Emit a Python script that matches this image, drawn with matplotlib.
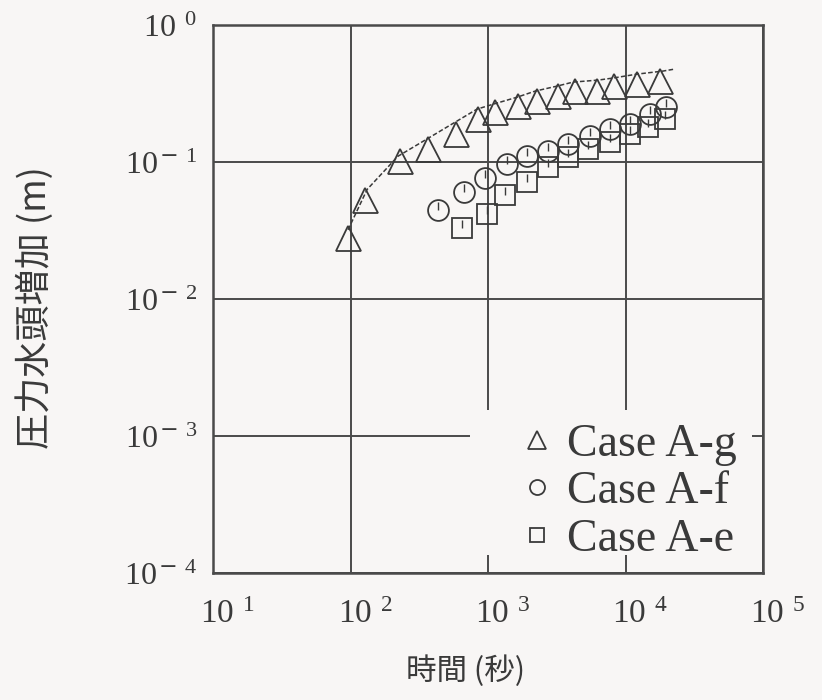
import math
import matplotlib
matplotlib.use("Agg")
import matplotlib.pyplot as plt
import matplotlib.transforms as mtransforms
from matplotlib.patches import Rectangle
from matplotlib.ticker import FixedLocator, FuncFormatter, NullLocator

plt.rcParams["mathtext.fontset"] = "custom"
plt.rcParams["mathtext.rm"] = "Liberation Serif"
plt.rcParams["mathtext.it"] = "Liberation Serif:italic"
plt.rcParams["mathtext.sf"] = "DejaVu Serif"
plt.rcParams["mathtext.default"] = "rm"

BG = "#f8f6f5"
INK = "#3a3a3a"

# Case A-g (triangles)
t_ag = [96, 127, 229, 366, 585, 845, 1120, 1650, 2270, 3230, 4300, 6210, 8250, 12100, 17800]
h_ag = [0.028, 0.053, 0.101, 0.124, 0.160, 0.206, 0.231, 0.256, 0.278, 0.303, 0.329,
        0.329, 0.358, 0.370, 0.389]

# Calculated curve for Case A-g
t_calc = [96, 132, 221, 359, 575, 831, 1087, 1625, 2197, 3176, 4150, 6310, 8110, 12130,
          18750, 22900]
h_calc = [0.032, 0.063, 0.110, 0.147, 0.195, 0.243, 0.264, 0.297, 0.329, 0.358, 0.383,
          0.396, 0.410, 0.438, 0.461, 0.477]

# Case A-f (circles)
t_af = [430, 670, 950, 1370, 1920, 2730, 3820, 5520, 7710, 10800, 15000, 19700]
h_af = [0.045, 0.060, 0.077, 0.096, 0.110, 0.120, 0.135, 0.154, 0.174, 0.190, 0.224, 0.251]

# Case A-e (squares)
t_ae = [650, 980, 1330, 1920, 2730, 3820, 5340, 7710, 10800, 14600, 19400]
h_ae = [0.033, 0.042, 0.057, 0.072, 0.092, 0.108, 0.124, 0.139, 0.160, 0.180, 0.206]

x_ticks = [1e1, 1e2, 1e3, 1e4, 1e5]
y_ticks = [1e-4, 1e-3, 1e-2, 1e-1, 1e0]

x_label = "時間 (秒)"
y_label = "圧力水頭増加 (m)"
legend_labels = ["Case A-g", "Case A-f", "Case A-e"]

fig = plt.figure(figsize=(8.22, 7.00), dpi=100, facecolor=BG)
ax = fig.add_axes([213 / 822, 1 - 573 / 700, 550 / 822, 548 / 700], facecolor=BG)
ax.set_xscale("log")
ax.set_yscale("log")
ax.set_xlim(1e1, 1e5)
ax.set_ylim(1e-4, 1e0)

ax.xaxis.set_major_locator(FixedLocator(x_ticks))
ax.yaxis.set_major_locator(FixedLocator(y_ticks))
ax.xaxis.set_minor_locator(NullLocator())
ax.yaxis.set_minor_locator(NullLocator())


def make_pow_label(gap_pos, gap_neg):
    def fmt(v, pos):
        e = int(round(math.log10(v)))
        if e < 0:
            return r"$10^{\hspace{%.2f}\mathsf{-}\hspace{0.45}%d}$" % (gap_neg, -e)
        return r"$10^{\hspace{%.2f}%d}$" % (gap_pos, e)
    return fmt


ax.xaxis.set_major_formatter(FuncFormatter(make_pow_label(0.55, 0.2)))
ax.yaxis.set_major_formatter(FuncFormatter(make_pow_label(0.6, 0.15)))
ax.tick_params(length=0, colors=INK)
ax.tick_params(axis="x", labelsize=24, pad=17)
ax.tick_params(axis="y", labelsize=23, pad=11)
for lbl in ax.get_xticklabels():
    lbl.set_horizontalalignment("left")
    lbl.set_transform(lbl.get_transform()
                      + mtransforms.ScaledTranslation(-0.13, 0, fig.dpi_scale_trans))

ax.grid(True, which="major", color="#4a4a4a", linewidth=1.4, zorder=1)
ax.set_axisbelow(True)
for s in ax.spines.values():
    s.set_color("#4a4a4a")
    s.set_linewidth(1.8)

# blank area behind the legend
ax.add_patch(Rectangle((0.467, 0.033), 0.513, 0.264, transform=ax.transAxes,
                       facecolor=BG, edgecolor="none", zorder=1.5))

mk = dict(linestyle="none", markerfacecolor="none", markeredgecolor=INK,
          markeredgewidth=1.3, zorder=3)
ax.plot(t_calc, h_calc, linestyle=(0, (3, 1.5)), color=INK, linewidth=1.1, zorder=2.5)
ax.plot(t_ag, h_ag, marker="^", markersize=18, label=legend_labels[0], **mk)
ax.plot(t_af, h_af, marker="o", markersize=15, label=legend_labels[1], **mk)
ax.plot(t_ae, h_ae, marker="s", markersize=14.5, label=legend_labels[2], **mk)
# short inner ticks of the circle and square symbols
ax.plot(t_af, h_af, linestyle="none", marker=2, markersize=5.5, markeredgewidth=1.0,
        color=INK, zorder=3)
ax.plot(t_ae, h_ae, linestyle="none", marker=2, markersize=5.5, markeredgewidth=1.0,
        color=INK, zorder=3)

leg = ax.legend(loc="upper left", bbox_to_anchor=(0.555, 0.273), frameon=False,
                prop={"family": "Liberation Serif", "size": 33}, markerscale=0.72,
                handlelength=0.8, handletextpad=0.27, labelspacing=0.11,
                borderaxespad=0, borderpad=0)
for t in leg.get_texts():
    t.set_color(INK)

ax.set_xlabel(x_label, family=["Noto Sans CJK JP", "DejaVu Sans"], fontsize=22,
              color=INK)
ax.set_ylabel(y_label, family=["Noto Sans CJK JP", "DejaVu Sans"], fontsize=26,
              color=INK)
ax.xaxis.set_label_coords(0.46, -0.15)
ax.yaxis.set_label_coords(-0.29, 0.485)

fig.savefig("out.png", dpi=100, facecolor=BG)
